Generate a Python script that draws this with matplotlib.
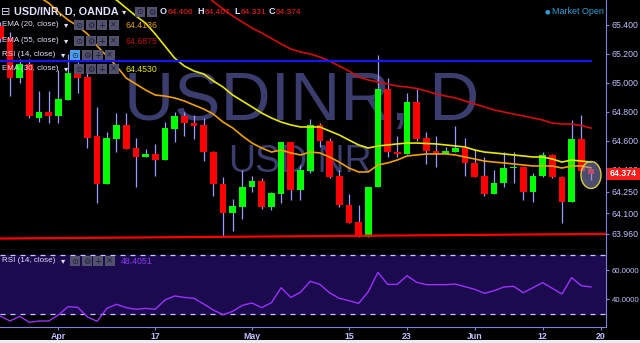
import numpy as np
import matplotlib
matplotlib.use('Agg')
import matplotlib.pyplot as plt
from matplotlib.patches import Rectangle, Ellipse

plt.rcParams['font.family'] = ['Liberation Sans', 'DejaVu Sans']

#________________________________________________________________
# daily candles, USD/INR (OANDA), 24 Mar .. 19 Jun, one entry per trading day
opens = [65.39, 65.31, 65.03, 65.13, 64.76, 64.80, 64.77, 64.88, 65.07, 65.04,
         64.63, 64.30, 64.61, 64.71, 64.55, 64.49, 64.51, 64.47, 64.68, 64.77,
         64.72, 64.71, 64.52, 64.30, 64.10, 64.14, 64.28, 64.32, 64.14, 64.23,
         64.59, 64.26, 64.39, 64.71, 64.60, 64.36, 64.16, 64.04, 63.94, 64.28,
         64.96, 64.52, 64.51, 64.87, 64.62, 64.53, 64.51, 64.52, 64.55, 64.45,
         64.36, 64.23, 64.31, 64.41, 64.42, 64.25, 64.36, 64.50, 64.35, 64.18,
         64.61, 64.406]
highs = [65.42, 65.35, 65.16, 65.16, 64.94, 64.94, 65.09, 65.20, 65.14, 65.09,
         64.83, 64.66, 64.79, 64.79, 64.62, 64.54, 64.58, 64.73, 64.80, 64.80,
         64.78, 64.76, 64.53, 64.35, 64.20, 64.40, 64.36, 64.34, 64.25, 64.59,
         64.59, 64.43, 64.75, 64.72, 64.62, 64.40, 64.23, 64.16, 64.28, 65.19,
         65.03, 64.63, 64.93, 64.96, 64.66, 64.63, 64.56, 64.70, 64.62, 64.54,
         64.49, 64.40, 64.52, 64.52, 64.42, 64.38, 64.52, 64.51, 64.36, 64.74,
         64.78, 64.407]
lows = [65.28, 64.91, 65.00, 64.76, 64.73, 64.72, 64.72, 64.88, 64.93, 64.55,
        64.17, 64.30, 64.52, 64.54, 64.28, 64.49, 64.36, 64.47, 64.59, 64.63,
        64.61, 64.46, 64.22, 63.94, 63.98, 64.06, 64.25, 64.13, 64.12, 64.17,
        64.19, 64.19, 64.38, 64.56, 64.34, 64.14, 64.03, 63.94, 63.94, 64.28,
        64.49, 64.49, 64.51, 64.60, 64.44, 64.42, 64.51, 64.52, 64.36, 64.35,
        64.22, 64.23, 64.28, 64.31, 64.19, 64.18, 64.35, 64.34, 64.03, 64.18,
        64.39, 64.331]
closes = [65.30, 65.03, 65.13, 64.77, 64.80, 64.77, 64.89, 65.07, 65.03, 64.62,
          64.30, 64.62, 64.71, 64.54, 64.49, 64.51, 64.47, 64.69, 64.77, 64.72,
          64.70, 64.52, 64.30, 64.10, 64.15, 64.28, 64.32, 64.14, 64.24, 64.59,
          64.26, 64.40, 64.71, 64.60, 64.35, 64.16, 64.03, 63.94, 64.28, 64.96,
          64.52, 64.51, 64.87, 64.61, 64.53, 64.51, 64.53, 64.55, 64.45, 64.35,
          64.23, 64.31, 64.41, 64.42, 64.25, 64.36, 64.50, 64.35, 64.18, 64.61,
          64.39, 64.374]

# moving averages (only the part that shows inside the pane)
ema20_start = 4
ema20 = [65.591, 65.549, 65.487, 65.432, 65.391, 65.336, 65.253, 65.184, 65.115, 65.032,
         64.991, 64.950, 64.915, 64.908, 64.895, 64.874, 64.846, 64.819, 64.784, 64.729,
         64.688, 64.633, 64.584, 64.550, 64.522, 64.536, 64.516, 64.502, 64.522, 64.516,
         64.488, 64.453, 64.412, 64.385, 64.385, 64.433, 64.447, 64.467, 64.495, 64.502,
         64.509, 64.509, 64.509, 64.502, 64.488, 64.474, 64.460, 64.453, 64.447, 64.440,
         64.433, 64.426, 64.426, 64.426, 64.412, 64.426, 64.426, 64.4136]
ema30_start = 11
ema30 = [65.604, 65.570, 65.515, 65.460, 65.411, 65.336, 65.253, 65.170, 65.115, 65.081,
         65.060, 65.012, 64.970, 64.915, 64.874, 64.833, 64.791, 64.757, 64.729, 64.709,
         64.695, 64.695, 64.695, 64.667, 64.640, 64.605, 64.571, 64.550, 64.564, 64.571,
         64.578, 64.584, 64.584, 64.581, 64.578, 64.571, 64.564, 64.557, 64.536, 64.522,
         64.516, 64.509, 64.502, 64.495, 64.488, 64.488, 64.474, 64.453, 64.467, 64.460,
         64.4530]
ema55_start = 20
ema55 = [65.660, 65.611, 65.560, 65.508, 65.460, 65.418, 65.377, 65.343, 65.305, 65.267,
         65.232, 65.212, 65.198, 65.177, 65.150, 65.115, 65.081, 65.039, 65.019, 65.005,
         64.991, 64.977, 64.970, 64.960, 64.943, 64.922, 64.908, 64.895, 64.874, 64.853,
         64.833, 64.812, 64.798, 64.784, 64.771, 64.757, 64.743, 64.722, 64.715, 64.715,
         64.705, 64.6875]

rsi = [28.6, 25.2, 28.4, 24.3, 25.2, 25.2, 29.3, 35.0, 34.5, 27.9,
       25.0, 33.8, 36.6, 34.3, 33.2, 33.8, 33.2, 39.5, 42.3, 41.3,
       40.7, 36.8, 32.7, 29.5, 31.8, 35.9, 37.5, 34.3, 37.7, 47.9,
       41.3, 44.8, 52.3, 50.2, 44.5, 40.7, 39.1, 37.2, 45.2, 58.4,
       50.2, 50.2, 56.1, 51.6, 50.0, 50.0, 50.0, 50.4, 48.6, 46.8,
       44.1, 45.9, 48.4, 48.9, 44.5, 47.9, 51.4, 47.5, 43.6, 54.8,
       49.3, 48.41]

# drawn lines: horizontal resistance and the rising support
resistance = 65.15
support_left, support_right = 63.926, 63.958

date_ticks = [6, 16, 26, 36, 42, 49, 56, 62]
date_labels = ['Apr', '17', 'May', '15', '23', 'Jun', '12', '20']
price_ticks = [63.96, 64.1, 64.25, 64.4, 64.6, 64.8, 65.0, 65.2, 65.4]
rsi_ticks = [40, 60]
#________________________________________________________________

AXIS = '#8080e0'
LBL = '#c0c0ff'
TXT = '#e0e0ff'

def fx(x):
    return x / 640.0

def fy(y):
    return 1 - y / 343.0

fig = plt.figure(figsize=(6.4, 3.43), dpi=100, facecolor='black')
ax = fig.add_axes([0, fy(250), 606 / 640, 250 / 343])
ax2 = fig.add_axes([0, fy(327), 606 / 640, 77 / 343], sharex=ax)

n = len(closes)
idx = np.arange(n)
xmin, xmax = -0.03, 62.55

for a in (ax, ax2):
    a.set_facecolor('black')
    for s in ('top', 'left'):
        a.spines[s].set_visible(False)
    a.spines['right'].set_color(AXIS)
    a.spines['bottom'].set_color(AXIS)
    a.yaxis.tick_right()
    a.tick_params(axis='y', colors=AXIS, labelcolor=LBL, labelsize=6.3, length=2.5, pad=1.5)

# watermark
ax.text(0.498, 0.592, 'USDINR, D', transform=ax.transAxes, ha='center', va='center',
        fontsize=50, color='#3b3d6e', zorder=0)
ax.text(0.495, 0.354, 'USDINR', transform=ax.transAxes, ha='center', va='center',
        fontsize=27, color='#3b3d6e', zorder=0)

# candles
o = np.array(opens)
c = np.array(closes)
up = c >= o
cols = np.where(up, '#00ff00', '#ff0000')
ax.vlines(idx, lows, highs, color='#9a9aff', lw=0.9, zorder=2)
body = np.maximum(np.abs(c - o), 0.012)
ax.bar(idx, body, bottom=np.minimum(o, c), width=0.69, color=cols, zorder=3)

# moving averages
ax.plot(np.arange(ema55_start, ema55_start + len(ema55)), ema55, color='#d40c0c', lw=1.2, zorder=4)
ax.plot(np.arange(ema30_start, ema30_start + len(ema30)), ema30, color='#e8e800', lw=1.2, zorder=4)
ax.plot(np.arange(ema20_start, ema20_start + len(ema20)), ema20, color='#f0a000', lw=1.2, zorder=4)

# drawn lines
ax.plot([xmin, n - 1], [resistance, resistance], color='#1414ff', lw=1.6, zorder=4)
ax.plot([xmin, xmax], [support_left, support_right], color='#ff0000', lw=1.6, zorder=4)

# highlight round the last candle
ax.add_patch(Ellipse((n - 1, 64.364), 2.07, 0.186, facecolor=(0.55, 0.55, 0.78, 0.55),
                     edgecolor='#d8d040', lw=1, zorder=5))

ax.set_xlim(xmin, xmax)
ax.set_ylim(63.847, 65.570)
ax.set_yticks(price_ticks)
ax.set_yticklabels(['%.3f' % p for p in price_ticks])
ax.tick_params(axis='x', bottom=False, labelbottom=False)

# RSI pane
ax2.axhspan(30, 70, color='#1c0a4e', zorder=0)
for lev in (30, 70):
    ax2.axhline(lev, color='#c8c8ff', lw=0.9, dashes=(4, 4), zorder=1)
ax2.plot(idx, rsi, color='#9b30ff', lw=1.0, zorder=3)
ax2.set_ylim(21.1, 73.65)
ax2.set_yticks(rsi_ticks)
ax2.set_yticklabels(['%.4f' % v for v in rsi_ticks])
ax2.tick_params(axis='y', labelsize=5.6)
ax2.set_xticks(date_ticks)
ax2.set_xticklabels(date_labels)
ax2.tick_params(axis='x', colors=AXIS, labelcolor=LBL, labelsize=6.3, length=2.5, pad=1)
for t in ax2.get_xticklabels():
    t.set_fontweight('bold')

# last price tag
fig.patches.append(Rectangle((fx(607), fy(180)), 33 / 640, 12 / 343, transform=fig.transFigure,
                             facecolor='#ff1a1a', edgecolor='none', zorder=10))
fig.text(fx(610), fy(174), '64.374', color='white', fontsize=6.3, fontweight='bold',
         va='center', zorder=11)

# light strip at the very bottom
fig.patches.append(Rectangle((0, 0), 1, 3 / 343, transform=fig.transFigure,
                             facecolor='#ececf4', edgecolor='none'))


def icons(x0, y, glyphs, hi=None):
    for i, g in enumerate(glyphs):
        bx = x0 + i * 11.5
        fc = '#4aa0f0' if i == hi else '#52526e'
        fig.patches.append(Rectangle((fx(bx), fy(y + 5)), 10 / 640, 10 / 343,
                                     transform=fig.transFigure, facecolor=fc,
                                     edgecolor='none', zorder=10))
        fig.text(fx(bx + 5), fy(y), g, ha='center', va='center', fontsize=6,
                 color='#1c1c30', family=['DejaVu Sans'], zorder=11)


# header
fig.text(fx(1), fy(12), '\u229f', color=TXT, fontsize=8, va='center', family=['DejaVu Sans'])
fig.text(fx(14), fy(12), 'USD/INR, D, OANDA', color=TXT, fontsize=7.8, fontweight='bold',
         va='center')
fig.text(fx(122), fy(12), '\u25be', color=TXT, fontsize=6, va='center', family=['DejaVu Sans'])
icons(135, 12, ['\u2299', '\u2699'])
ohlc = [('O', 160, '64.406', 168), ('H', 197, '64.407', 205),
        ('L', 234, '64.331', 241), ('C', 269, '64.374', 276)]
for k, kx, v, vx in ohlc:
    fig.text(fx(kx), fy(12), k, color=TXT, fontsize=6.5, fontweight='bold', va='center')
    fig.text(fx(vx), fy(12), v, color='#ff2020', fontsize=6, va='center')

fig.text(fx(545), fy(12), '\u25cf', color='#2aa0d8', fontsize=4.5, va='center', family=['DejaVu Sans'])
fig.text(fx(552), fy(12), 'Market Open', color='#2aa0d8', fontsize=6.5, va='center')

# study rows
rows = [('EMA (20, close)', 25, '64.4136', '#e8a000', None),
        ('EMA (55, close)', 41, '64.6875', '#c01010', None),
        ('RSI (14, close)', 55, None, None, 0),
        ('EMA (30, close)', 69, '64.4530', '#e8e800', None)]
for name, y, val, vc, hi in rows:
    fig.text(fx(2), fy(y), name, color=TXT, fontsize=5.8, va='center')
    ax_x = 61 if name.startswith('RSI') else 64
    box_x = 70 if name.startswith('RSI') else 74
    fig.text(fx(ax_x), fy(y), '\u25be', color=TXT, fontsize=6, va='center', family=['DejaVu Sans'])
    icons(box_x, y, ['\u2299', '\u2699', '+', '\u00d7'], hi)
    if val:
        fig.text(fx(125), fy(y), val, color=vc, fontsize=6.3, va='center')

# RSI pane legend
fig.text(fx(2), fy(261), 'RSI (14, close)', color=TXT, fontsize=5.8, va='center')
fig.text(fx(61), fy(261), '\u25be', color=TXT, fontsize=6, va='center', family=['DejaVu Sans'])
icons(70, 261, ['\u2299', '\u2699', '+', '\u00d7'])
fig.text(fx(121), fy(261), '48.4051', color='#8a3cf0', fontsize=6.3, va='center')

fig.savefig('out.png', dpi=100, facecolor='black')
